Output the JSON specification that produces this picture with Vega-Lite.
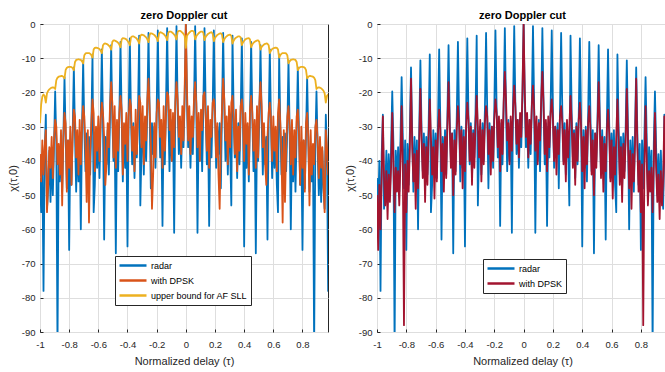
{
"$schema":"https://vega.github.io/schema/vega-lite/v6.json",
"padding":{"left":6,"top":9,"right":0,"bottom":0},
"background":"white",
"datasets":{"af":[
{"x":-1,"r":-45,"d":-38,"u":-29,"p":-50},
{"x":-0.992,"r":-55,"d":-46,"u":-23.5,"p":-66},
{"x":-0.984,"r":-40,"d":-34,"u":-21.2,"p":-47},
{"x":-0.976,"r":-78,"d":-44,"u":-20.6,"p":-60},
{"x":-0.968,"r":-38,"d":-36,"u":-21,"p":-44},
{"x":-0.96,"r":-26.5,"d":-31,"u":-23,"p":-27},
{"x":-0.952,"r":-54,"d":-55,"u":-20.3,"p":-45},
{"x":-0.944,"r":-48,"d":-47,"u":-19.5,"p":-53},
{"x":-0.936,"r":-37,"d":-36,"u":-19.1,"p":-43},
{"x":-0.928,"r":-52,"d":-42,"u":-18.8,"p":-57},
{"x":-0.92,"r":-38,"d":-33,"u":-18.6,"p":-44},
{"x":-0.912,"r":-50,"d":-45,"u":-18.5,"p":-52},
{"x":-0.904,"r":-36,"d":-34,"u":-18.6,"p":-42},
{"x":-0.896,"r":-19.7,"d":-28,"u":-19,"p":-26},
{"x":-0.888,"r":-35,"d":-30,"u":-16.4,"p":-41},
{"x":-0.88,"r":-95,"d":-41,"u":-15.7,"p":-55},
{"x":-0.872,"r":-37,"d":-35,"u":-15.4,"p":-42},
{"x":-0.864,"r":-46,"d":-44,"u":-15.3,"p":-49},
{"x":-0.856,"r":-36,"d":-31,"u":-15.2,"p":-43},
{"x":-0.848,"r":-49,"d":-53,"u":-15.2,"p":-53},
{"x":-0.84,"r":-34,"d":-33,"u":-15.4,"p":-40},
{"x":-0.832,"r":-15.5,"d":-26,"u":-15.9,"p":-24},
{"x":-0.824,"r":-33,"d":-29,"u":-13.4,"p":-42},
{"x":-0.816,"r":-48,"d":-49,"u":-12.8,"p":-88},
{"x":-0.808,"r":-34,"d":-34,"u":-12.6,"p":-41},
{"x":-0.8,"r":-66,"d":-42,"u":-12.5,"p":-55},
{"x":-0.792,"r":-35,"d":-30,"u":-12.5,"p":-40},
{"x":-0.784,"r":-47,"d":-47,"u":-12.6,"p":-49},
{"x":-0.776,"r":-32,"d":-32,"u":-12.9,"p":-36},
{"x":-0.768,"r":-12.7,"d":-25,"u":-13.5,"p":-16},
{"x":-0.76,"r":-32,"d":-27,"u":-11.1,"p":-35},
{"x":-0.752,"r":-49,"d":-39,"u":-10.5,"p":-46},
{"x":-0.744,"r":-33,"d":-31,"u":-10.4,"p":-38},
{"x":-0.736,"r":-46,"d":-44,"u":-10.3,"p":-54},
{"x":-0.728,"r":-34,"d":-28,"u":-10.4,"p":-37},
{"x":-0.72,"r":-60,"d":-41,"u":-10.5,"p":-48},
{"x":-0.712,"r":-31,"d":-30,"u":-10.9,"p":-34},
{"x":-0.704,"r":-10.6,"d":-24,"u":-11.5,"p":-19},
{"x":-0.696,"r":-31,"d":-27,"u":-9.1,"p":-34},
{"x":-0.688,"r":-43,"d":-36,"u":-8.6,"p":-45},
{"x":-0.68,"r":-32,"d":-52,"u":-8.5,"p":-35},
{"x":-0.672,"r":-48,"d":-31,"u":-8.5,"p":-52},
{"x":-0.664,"r":-33,"d":-58,"u":-8.5,"p":-36},
{"x":-0.656,"r":-44,"d":-38,"u":-8.7,"p":-47},
{"x":-0.648,"r":-30,"d":-29,"u":-9.1,"p":-33},
{"x":-0.64,"r":-8.9,"d":-22,"u":-9.8,"p":-22},
{"x":-0.632,"r":-55,"d":-26,"u":-7.4,"p":-33},
{"x":-0.624,"r":-47,"d":-43,"u":-7,"p":-44},
{"x":-0.616,"r":-31,"d":-30,"u":-6.9,"p":-36},
{"x":-0.608,"r":-42,"d":-37,"u":-7,"p":-51},
{"x":-0.6,"r":-32,"d":-27,"u":-7.1,"p":-34},
{"x":-0.592,"r":-45,"d":-40,"u":-7.3,"p":-46},
{"x":-0.584,"r":-29,"d":-28,"u":-7.8,"p":-32},
{"x":-0.576,"r":-7.4,"d":-23,"u":-8.5,"p":-25},
{"x":-0.568,"r":-29,"d":-26,"u":-6.2,"p":-31},
{"x":-0.56,"r":-63,"d":-33,"u":-5.75,"p":-43},
{"x":-0.552,"r":-33,"d":-47,"u":-5.7,"p":-35},
{"x":-0.544,"r":-41,"d":-41,"u":-5.8,"p":-49},
{"x":-0.536,"r":-31,"d":-29,"u":-6,"p":-33},
{"x":-0.528,"r":-44,"d":-36,"u":-6.3,"p":-45},
{"x":-0.52,"r":-28,"d":-24,"u":-6.7,"p":-30},
{"x":-0.512,"r":-6.2,"d":-17,"u":-7.5,"p":-17},
{"x":-0.504,"r":-28,"d":-23,"u":-5.2,"p":-30},
{"x":-0.496,"r":-40,"d":-39,"u":-4.8,"p":-42},
{"x":-0.488,"r":-32,"d":-24,"u":-4.8,"p":-32},
{"x":-0.48,"r":-67,"d":-42,"u":-5,"p":-50},
{"x":-0.472,"r":-31,"d":-28,"u":-5.2,"p":-34},
{"x":-0.464,"r":-43,"d":-37,"u":-5.5,"p":-44},
{"x":-0.456,"r":-27,"d":-26,"u":-6,"p":-31},
{"x":-0.448,"r":-5.2,"d":-21,"u":-6.8,"p":-24},
{"x":-0.44,"r":-27,"d":-25,"u":-4.5,"p":-29},
{"x":-0.432,"r":-46,"d":-44,"u":-4.15,"p":-41},
{"x":-0.424,"r":-30,"d":-29,"u":-4.2,"p":-31},
{"x":-0.416,"r":-42,"d":-35,"u":-4.3,"p":-48},
{"x":-0.408,"r":-31,"d":-26,"u":-4.5,"p":-33},
{"x":-0.4,"r":-65,"d":-40,"u":-4.9,"p":-43},
{"x":-0.392,"r":-27,"d":-27,"u":-5.4,"p":-30},
{"x":-0.384,"r":-4.2,"d":-22,"u":-6.2,"p":-23},
{"x":-0.376,"r":-27,"d":-24,"u":-3.9,"p":-28},
{"x":-0.368,"r":-41,"d":-37,"u":-3.6,"p":-40},
{"x":-0.36,"r":-29,"d":-30,"u":-3.6,"p":-30},
{"x":-0.352,"r":-45,"d":-43,"u":-3.8,"p":-47},
{"x":-0.344,"r":-31,"d":-25,"u":-4,"p":-32},
{"x":-0.336,"r":-39,"d":-38,"u":-4.3,"p":-42},
{"x":-0.328,"r":-26,"d":-28,"u":-4.9,"p":-29},
{"x":-0.32,"r":-3.4,"d":-21,"u":-5.7,"p":-21},
{"x":-0.312,"r":-53,"d":-23,"u":-3.5,"p":-30},
{"x":-0.304,"r":-37,"d":-36,"u":-3.1,"p":-39},
{"x":-0.296,"r":-30,"d":-24,"u":-3.2,"p":-28},
{"x":-0.288,"r":-44,"d":-41,"u":-3.3,"p":-46},
{"x":-0.28,"r":-29,"d":-27,"u":-3.6,"p":-31},
{"x":-0.272,"r":-40,"d":-34,"u":-3.9,"p":-41},
{"x":-0.264,"r":-25,"d":-22,"u":-4.5,"p":-29},
{"x":-0.256,"r":-2.6,"d":-16,"u":-5.3,"p":-24},
{"x":-0.248,"r":-26,"d":-25,"u":-3.1,"p":-27},
{"x":-0.24,"r":-48,"d":-35,"u":-2.7,"p":-38},
{"x":-0.232,"r":-29,"d":-54,"u":-2.8,"p":-31},
{"x":-0.224,"r":-38,"d":-44,"u":-3,"p":-44},
{"x":-0.216,"r":-30,"d":-29,"u":-3.2,"p":-30},
{"x":-0.208,"r":-42,"d":-39,"u":-3.6,"p":-40},
{"x":-0.2,"r":-25,"d":-26,"u":-4.1,"p":-28},
{"x":-0.192,"r":-1.9,"d":-22,"u":-5,"p":-22},
{"x":-0.184,"r":-25,"d":-23,"u":-2.8,"p":-26},
{"x":-0.176,"r":-39,"d":-33,"u":-2.4,"p":-36},
{"x":-0.168,"r":-30,"d":-28,"u":-2.5,"p":-27},
{"x":-0.16,"r":-59,"d":-42,"u":-2.7,"p":-43},
{"x":-0.152,"r":-29,"d":-24,"u":-2.9,"p":-28},
{"x":-0.144,"r":-41,"d":-37,"u":-3.3,"p":-38},
{"x":-0.136,"r":-24,"d":-27,"u":-3.8,"p":-23},
{"x":-0.128,"r":-1.2,"d":-20,"u":-4.7,"p":-14},
{"x":-0.12,"r":-25,"d":-21,"u":-2.5,"p":-22},
{"x":-0.112,"r":-43,"d":-31,"u":-2.2,"p":-34},
{"x":-0.104,"r":-28,"d":-25,"u":-2.2,"p":-29},
{"x":-0.096,"r":-40,"d":-40,"u":-2.4,"p":-41},
{"x":-0.088,"r":-30,"d":-26,"u":-2.7,"p":-27},
{"x":-0.08,"r":-61,"d":-36,"u":-3.1,"p":-37},
{"x":-0.072,"r":-24,"d":-23,"u":-3.6,"p":-25},
{"x":-0.064,"r":-0.6,"d":-17,"u":-4.5,"p":-18},
{"x":-0.056,"r":-24,"d":-22,"u":-2.3,"p":-24},
{"x":-0.048,"r":-38,"d":-33,"u":-2,"p":-35},
{"x":-0.04,"r":-28,"d":-27,"u":-2,"p":-28},
{"x":-0.032,"r":-42,"d":-38,"u":-2.2,"p":-39},
{"x":-0.024,"r":-29,"d":-24,"u":-2.5,"p":-26},
{"x":-0.016,"r":-36,"d":-34,"u":-2.9,"p":-33},
{"x":-0.008,"r":-22,"d":-19,"u":-3.4,"p":-20},
{"x":0,"r":0,"d":0,"u":-7,"p":0},
{"x":0.008,"r":-22,"d":-19,"u":-3.4,"p":-20},
{"x":0.016,"r":-36,"d":-34,"u":-2.9,"p":-33},
{"x":0.024,"r":-29,"d":-24,"u":-2.5,"p":-26},
{"x":0.032,"r":-42,"d":-38,"u":-2.2,"p":-39},
{"x":0.04,"r":-28,"d":-27,"u":-2,"p":-28},
{"x":0.048,"r":-38,"d":-33,"u":-2,"p":-35},
{"x":0.056,"r":-24,"d":-22,"u":-2.3,"p":-24},
{"x":0.064,"r":-0.6,"d":-17,"u":-4.5,"p":-18},
{"x":0.072,"r":-24,"d":-23,"u":-3.6,"p":-25},
{"x":0.08,"r":-61,"d":-36,"u":-3.1,"p":-37},
{"x":0.088,"r":-30,"d":-26,"u":-2.7,"p":-27},
{"x":0.096,"r":-40,"d":-40,"u":-2.4,"p":-41},
{"x":0.104,"r":-28,"d":-25,"u":-2.2,"p":-29},
{"x":0.112,"r":-43,"d":-31,"u":-2.2,"p":-34},
{"x":0.12,"r":-25,"d":-21,"u":-2.5,"p":-22},
{"x":0.128,"r":-1.2,"d":-20,"u":-4.7,"p":-14},
{"x":0.136,"r":-24,"d":-27,"u":-3.8,"p":-23},
{"x":0.144,"r":-41,"d":-37,"u":-3.3,"p":-38},
{"x":0.152,"r":-29,"d":-24,"u":-2.9,"p":-28},
{"x":0.16,"r":-59,"d":-42,"u":-2.7,"p":-43},
{"x":0.168,"r":-30,"d":-28,"u":-2.5,"p":-27},
{"x":0.176,"r":-39,"d":-33,"u":-2.4,"p":-36},
{"x":0.184,"r":-25,"d":-23,"u":-2.8,"p":-26},
{"x":0.192,"r":-1.9,"d":-22,"u":-5,"p":-22},
{"x":0.2,"r":-25,"d":-26,"u":-4.1,"p":-28},
{"x":0.208,"r":-42,"d":-39,"u":-3.6,"p":-40},
{"x":0.216,"r":-30,"d":-29,"u":-3.2,"p":-30},
{"x":0.224,"r":-38,"d":-44,"u":-3,"p":-44},
{"x":0.232,"r":-29,"d":-54,"u":-2.8,"p":-31},
{"x":0.24,"r":-48,"d":-35,"u":-2.7,"p":-38},
{"x":0.248,"r":-26,"d":-25,"u":-3.1,"p":-27},
{"x":0.256,"r":-2.6,"d":-16,"u":-5.3,"p":-24},
{"x":0.264,"r":-25,"d":-22,"u":-4.5,"p":-29},
{"x":0.272,"r":-40,"d":-34,"u":-3.9,"p":-41},
{"x":0.28,"r":-29,"d":-27,"u":-3.6,"p":-31},
{"x":0.288,"r":-44,"d":-41,"u":-3.3,"p":-46},
{"x":0.296,"r":-30,"d":-24,"u":-3.2,"p":-28},
{"x":0.304,"r":-37,"d":-36,"u":-3.1,"p":-39},
{"x":0.312,"r":-53,"d":-23,"u":-3.5,"p":-30},
{"x":0.32,"r":-3.4,"d":-21,"u":-5.7,"p":-21},
{"x":0.328,"r":-26,"d":-28,"u":-4.9,"p":-29},
{"x":0.336,"r":-39,"d":-38,"u":-4.3,"p":-42},
{"x":0.344,"r":-31,"d":-25,"u":-4,"p":-32},
{"x":0.352,"r":-45,"d":-43,"u":-3.8,"p":-47},
{"x":0.36,"r":-29,"d":-30,"u":-3.6,"p":-30},
{"x":0.368,"r":-41,"d":-37,"u":-3.6,"p":-40},
{"x":0.376,"r":-27,"d":-24,"u":-3.9,"p":-28},
{"x":0.384,"r":-4.2,"d":-22,"u":-6.2,"p":-23},
{"x":0.392,"r":-27,"d":-27,"u":-5.4,"p":-30},
{"x":0.4,"r":-65,"d":-40,"u":-4.9,"p":-43},
{"x":0.408,"r":-31,"d":-26,"u":-4.5,"p":-33},
{"x":0.416,"r":-42,"d":-35,"u":-4.3,"p":-48},
{"x":0.424,"r":-30,"d":-29,"u":-4.2,"p":-31},
{"x":0.432,"r":-46,"d":-44,"u":-4.15,"p":-41},
{"x":0.44,"r":-27,"d":-25,"u":-4.5,"p":-29},
{"x":0.448,"r":-5.2,"d":-21,"u":-6.8,"p":-24},
{"x":0.456,"r":-27,"d":-26,"u":-6,"p":-31},
{"x":0.464,"r":-43,"d":-37,"u":-5.5,"p":-44},
{"x":0.472,"r":-31,"d":-28,"u":-5.2,"p":-34},
{"x":0.48,"r":-67,"d":-42,"u":-5,"p":-50},
{"x":0.488,"r":-32,"d":-24,"u":-4.8,"p":-32},
{"x":0.496,"r":-40,"d":-39,"u":-4.8,"p":-42},
{"x":0.504,"r":-28,"d":-23,"u":-5.2,"p":-30},
{"x":0.512,"r":-6.2,"d":-17,"u":-7.5,"p":-17},
{"x":0.52,"r":-28,"d":-24,"u":-6.7,"p":-30},
{"x":0.528,"r":-44,"d":-36,"u":-6.3,"p":-45},
{"x":0.536,"r":-31,"d":-29,"u":-6,"p":-33},
{"x":0.544,"r":-41,"d":-41,"u":-5.8,"p":-49},
{"x":0.552,"r":-33,"d":-47,"u":-5.7,"p":-35},
{"x":0.56,"r":-63,"d":-33,"u":-5.75,"p":-43},
{"x":0.568,"r":-29,"d":-26,"u":-6.2,"p":-31},
{"x":0.576,"r":-7.4,"d":-23,"u":-8.5,"p":-25},
{"x":0.584,"r":-29,"d":-28,"u":-7.8,"p":-32},
{"x":0.592,"r":-45,"d":-40,"u":-7.3,"p":-46},
{"x":0.6,"r":-32,"d":-27,"u":-7.1,"p":-34},
{"x":0.608,"r":-42,"d":-37,"u":-7,"p":-51},
{"x":0.616,"r":-31,"d":-30,"u":-6.9,"p":-36},
{"x":0.624,"r":-47,"d":-43,"u":-7,"p":-44},
{"x":0.632,"r":-55,"d":-26,"u":-7.4,"p":-33},
{"x":0.64,"r":-8.9,"d":-22,"u":-9.8,"p":-22},
{"x":0.648,"r":-30,"d":-29,"u":-9.1,"p":-33},
{"x":0.656,"r":-44,"d":-38,"u":-8.7,"p":-47},
{"x":0.664,"r":-33,"d":-58,"u":-8.5,"p":-36},
{"x":0.672,"r":-48,"d":-31,"u":-8.5,"p":-52},
{"x":0.68,"r":-32,"d":-52,"u":-8.5,"p":-35},
{"x":0.688,"r":-43,"d":-36,"u":-8.6,"p":-45},
{"x":0.696,"r":-31,"d":-27,"u":-9.1,"p":-34},
{"x":0.704,"r":-10.6,"d":-24,"u":-11.5,"p":-19},
{"x":0.712,"r":-31,"d":-30,"u":-10.9,"p":-34},
{"x":0.72,"r":-60,"d":-41,"u":-10.5,"p":-48},
{"x":0.728,"r":-34,"d":-28,"u":-10.4,"p":-37},
{"x":0.736,"r":-46,"d":-44,"u":-10.3,"p":-54},
{"x":0.744,"r":-33,"d":-31,"u":-10.4,"p":-38},
{"x":0.752,"r":-49,"d":-39,"u":-10.5,"p":-46},
{"x":0.76,"r":-32,"d":-27,"u":-11.1,"p":-35},
{"x":0.768,"r":-12.7,"d":-25,"u":-13.5,"p":-16},
{"x":0.776,"r":-32,"d":-32,"u":-12.9,"p":-36},
{"x":0.784,"r":-47,"d":-47,"u":-12.6,"p":-49},
{"x":0.792,"r":-35,"d":-30,"u":-12.5,"p":-40},
{"x":0.8,"r":-66,"d":-42,"u":-12.5,"p":-55},
{"x":0.808,"r":-34,"d":-34,"u":-12.6,"p":-41},
{"x":0.816,"r":-48,"d":-49,"u":-12.8,"p":-88},
{"x":0.824,"r":-33,"d":-29,"u":-13.4,"p":-42},
{"x":0.832,"r":-15.5,"d":-26,"u":-15.9,"p":-24},
{"x":0.84,"r":-34,"d":-33,"u":-15.4,"p":-40},
{"x":0.848,"r":-49,"d":-53,"u":-15.2,"p":-53},
{"x":0.856,"r":-36,"d":-31,"u":-15.2,"p":-43},
{"x":0.864,"r":-46,"d":-44,"u":-15.3,"p":-49},
{"x":0.872,"r":-37,"d":-35,"u":-15.4,"p":-42},
{"x":0.88,"r":-95,"d":-41,"u":-15.7,"p":-55},
{"x":0.888,"r":-35,"d":-30,"u":-16.4,"p":-41},
{"x":0.896,"r":-19.7,"d":-28,"u":-19,"p":-26},
{"x":0.904,"r":-36,"d":-34,"u":-18.6,"p":-42},
{"x":0.912,"r":-50,"d":-45,"u":-18.5,"p":-52},
{"x":0.92,"r":-38,"d":-33,"u":-18.6,"p":-44},
{"x":0.928,"r":-52,"d":-42,"u":-18.8,"p":-57},
{"x":0.936,"r":-37,"d":-36,"u":-19.1,"p":-43},
{"x":0.944,"r":-48,"d":-47,"u":-19.5,"p":-53},
{"x":0.952,"r":-54,"d":-55,"u":-20.3,"p":-45},
{"x":0.96,"r":-26.5,"d":-31,"u":-23,"p":-27},
{"x":0.968,"r":-38,"d":-36,"u":-21,"p":-44},
{"x":0.976,"r":-78,"d":-44,"u":-20.6,"p":-60},
{"x":0.984,"r":-40,"d":-34,"u":-21.2,"p":-47},
{"x":0.992,"r":-55,"d":-46,"u":-23.5,"p":-66}
]},
"config":{
 "font":"Liberation Sans",
 "view":{"stroke":"#262626","strokeWidth":1},
 "axis":{"grid":true,"gridColor":"#dedede","gridWidth":1,"domain":false,"ticks":true,"tickColor":"#262626","tickSize":-3,"labelColor":"#262626","labelFontSize":9.5,"labelFont":"Liberation Sans","labelOverlap":false,"labelBound":false,"labelFlush":false,"titleFont":"Liberation Sans","titleFontWeight":"normal","titleFontSize":11,"titleColor":"#262626"},
 "axisX":{"labelPadding":10,"titlePadding":7},
 "axisY":{"labelPadding":8,"titlePadding":1,"minExtent":21,"maxExtent":21},
 "title":{"fontSize":11,"fontWeight":"bold","color":"#000000","offset":-2,"font":"Liberation Sans"},
 "legend":{"orient":"none","title":null,"symbolType":"stroke","symbolSize":729,"symbolStrokeWidth":2.5,"labelFontSize":9,"labelFont":"Liberation Sans","labelColor":"#000000","labelOffset":3,"padding":3,"rowPadding":2,"clipHeight":13,"strokeColor":"#262626","fillColor":"#ffffff","cornerRadius":0},
 "concat":{"spacing":14}
},
"resolve":{"scale":{"color":"independent"}},
"hconcat":[
 {
  "width":288,"height":308,
  "title":"zero Doppler cut",
  "data":{"name":"af"},
  "encoding":{
   "x":{"field":"x","type":"quantitative","scale":{"domain":[-1,0.975],"nice":false,"zero":false},"axis":{"title":"Normalized delay (τ)","values":[-1,-0.8,-0.6,-0.4,-0.2,0,0.2,0.4,0.6,0.8],"labelExpr":"'' + datum.value"}}
  },
  "layer":[
   {"mark":{"type":"line","clip":true,"strokeWidth":1.8,"strokeJoin":"round"},
    "encoding":{
     "y":{"field":"r","type":"quantitative","scale":{"domain":[-90,0],"nice":false},"axis":{"title":"χ(τ,0)","values":[-90,-80,-70,-60,-50,-40,-30,-20,-10,0],"labelOverlap":false,"labelExpr":"'' + datum.value"}},
     "color":{"datum":"radar","scale":{"domain":["radar","with DPSK","upper bound for AF SLL"],"range":["#0072BD","#D95319","#EDB120"]},"legend":{"legendX":75,"legendY":232}}
    }},
   {"mark":{"type":"line","clip":true,"strokeWidth":1.8,"strokeJoin":"round"},
    "encoding":{
     "y":{"field":"d","type":"quantitative","axis":{"title":"χ(τ,0)","values":[-90,-80,-70,-60,-50,-40,-30,-20,-10,0],"labelOverlap":false,"labelExpr":"'' + datum.value"}},
     "color":{"datum":"with DPSK"}
    }},
   {"mark":{"type":"line","clip":true,"strokeWidth":1.8,"strokeJoin":"round"},
    "encoding":{
     "y":{"field":"u","type":"quantitative","axis":{"title":"χ(τ,0)","values":[-90,-80,-70,-60,-50,-40,-30,-20,-10,0],"labelOverlap":false,"labelExpr":"'' + datum.value"}},
     "color":{"datum":"upper bound for AF SLL"}
    }}
  ]
 },
 {
  "width":291,"height":308,
  "title":"zero Doppler cut",
  "data":{"name":"af"},
  "encoding":{
   "x":{"field":"x","type":"quantitative","scale":{"domain":[-1,0.985],"nice":false,"zero":false},"axis":{"title":"Normalized delay (τ)","values":[-1,-0.8,-0.6,-0.4,-0.2,0,0.2,0.4,0.6,0.8],"labelExpr":"'' + datum.value"}}
  },
  "layer":[
   {"mark":{"type":"line","clip":true,"strokeWidth":1.8,"strokeJoin":"round"},
    "encoding":{
     "y":{"field":"r","type":"quantitative","scale":{"domain":[-90,0],"nice":false},"axis":{"title":"χ(τ,0)","values":[-90,-80,-70,-60,-50,-40,-30,-20,-10,0],"labelOverlap":false,"labelExpr":"'' + datum.value"}},
     "color":{"datum":"radar","scale":{"domain":["radar","with DPSK"],"range":["#0072BD","#A2142F"]},"legend":{"legendX":106,"legendY":235}}
    }},
   {"mark":{"type":"line","clip":true,"strokeWidth":1.8,"strokeJoin":"round"},
    "encoding":{
     "y":{"field":"p","type":"quantitative","axis":{"title":"χ(τ,0)","values":[-90,-80,-70,-60,-50,-40,-30,-20,-10,0],"labelOverlap":false,"labelExpr":"'' + datum.value"}},
     "color":{"datum":"with DPSK"}
    }}
  ]
 }
]
}
